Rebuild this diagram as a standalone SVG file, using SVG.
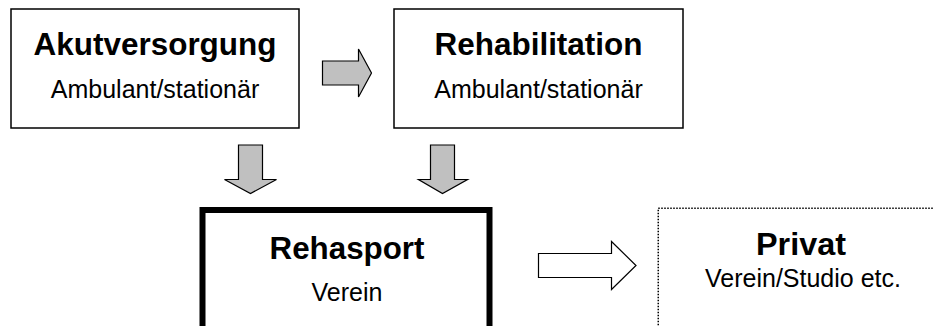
<svg xmlns="http://www.w3.org/2000/svg" width="934" height="326" viewBox="0 0 934 326">
<style>
.box{fill:#fff;stroke:#000;stroke-width:1.5}
.thick{fill:#fff;stroke:#000;stroke-width:6}
.dot{fill:#fff;stroke:#000;stroke-width:1.5;stroke-dasharray:1.5 1.5}
.t{font-family:"Liberation Sans",Arial,sans-serif;font-weight:bold;font-size:31px;text-anchor:middle;fill:#000}
.s{font-family:"Liberation Sans",Arial,sans-serif;font-size:25px;text-anchor:middle;fill:#000}
.ga{fill:#c0c0c0;stroke:#000;stroke-width:1.2;stroke-linejoin:miter}
.wa{fill:#fff;stroke:#000;stroke-width:1.2;stroke-linejoin:miter}
</style>
<rect width="934" height="326" fill="#fff"/>
<g id="akutversorgung">
<rect class="box" x="11" y="9" width="288" height="119"/>
<text class="t" x="155" y="55" textLength="243" lengthAdjust="spacingAndGlyphs">Akutversorgung</text>
<text class="s" x="155" y="98">Ambulant/stationär</text>
</g>
<g id="rehabilitation">
<rect class="box" x="394" y="9" width="289" height="119"/>
<text class="t" x="538.5" y="55" textLength="208" lengthAdjust="spacingAndGlyphs">Rehabilitation</text>
<text class="s" x="538.5" y="98">Ambulant/stationär</text>
</g>
<g id="rehasport">
<rect class="thick" x="202.5" y="210" width="287" height="130"/>
<text class="t" x="347" y="259" textLength="155" lengthAdjust="spacingAndGlyphs">Rehasport</text>
<text class="s" x="347" y="301">Verein</text>
</g>
<g id="privat">
<rect class="dot" x="658.25" y="208.25" width="290" height="130"/>
<text class="t" x="801" y="255" textLength="90" lengthAdjust="spacingAndGlyphs">Privat</text>
<text class="s" x="803" y="287">Verein/Studio etc.</text>
</g>
<g id="connectors">
<polygon class="ga" points="322.5,61 358.5,61 358.5,49 371.5,73 358.5,97 358.5,85 322.5,85"/>
<polygon class="ga" points="238.5,145 262.5,145 262.5,179.5 276.5,179.5 250.5,193.5 224.5,179.5 238.5,179.5"/>
<polygon class="ga" points="430.5,145 454.5,145 454.5,179.5 467.5,179.5 442.5,193.5 418.5,179.5 430.5,179.5"/>
<polygon class="wa" points="538.5,253.5 611.5,253.5 611.5,241.5 636,265.5 611.5,289.5 611.5,277.5 538.5,277.5"/>
</g>
</svg>
